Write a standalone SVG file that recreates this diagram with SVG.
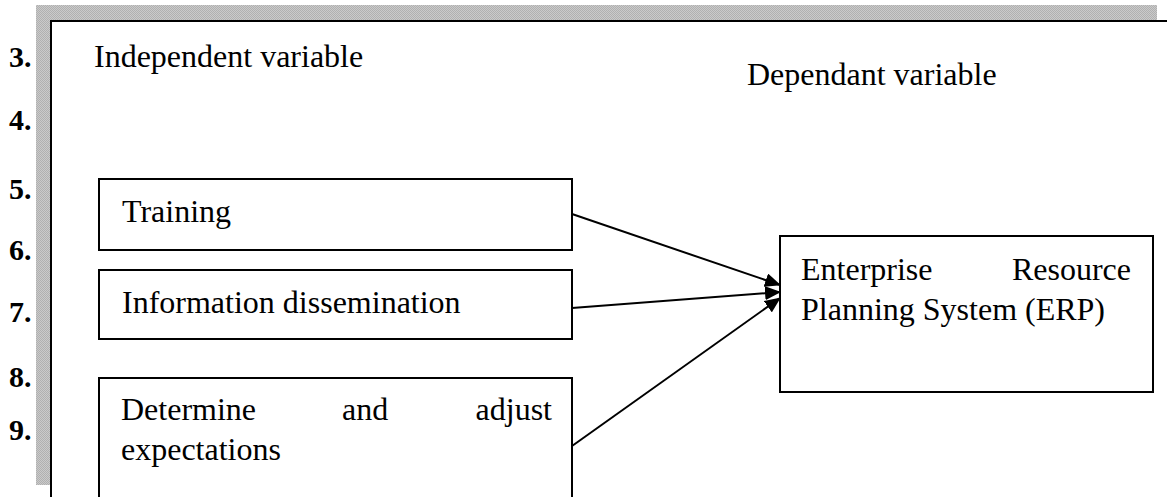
<svg xmlns="http://www.w3.org/2000/svg" width="1167" height="497" viewBox="0 0 1167 497">
<style>
.t{font-family:"Liberation Serif","Times New Roman",serif;font-size:32px;fill:#000}
.n{font-family:"Liberation Serif","Times New Roman",serif;font-size:30px;font-weight:bold;fill:#000}
.box{fill:#fff;stroke:#000;stroke-width:2}
.conn{stroke:#000;stroke-width:2;fill:none}
</style>
<defs>
<pattern id="chk" width="2" height="2" patternUnits="userSpaceOnUse">
<rect width="2" height="2" fill="#cacaca"/>
<rect width="1" height="1" fill="#b0b0b0"/>
<rect x="1" y="1" width="1" height="1" fill="#b0b0b0"/>
</pattern>
<marker id="ah" markerWidth="16" markerHeight="14" refX="15" refY="7" orient="auto" markerUnits="userSpaceOnUse">
<path d="M0,0 L16,7 L0,14 z" fill="#000"/>
</marker>
</defs>
<rect width="1167" height="497" fill="#fff"/>
<g id="frame">
<rect x="36" y="5" width="1121" height="16" fill="url(#chk)"/>
<rect x="36" y="5" width="15" height="480" fill="url(#chk)"/>
<rect x="51" y="21" width="1116" height="476" fill="#fff"/>
<path d="M51,497 V21 H1167" fill="none" stroke="#000" stroke-width="2"/>
</g>
<g id="numbers">
<text class="n" x="9" y="67">3.</text>
<text class="n" x="9" y="130">4.</text>
<text class="n" x="9" y="199">5.</text>
<text class="n" x="9" y="260">6.</text>
<text class="n" x="9" y="322">7.</text>
<text class="n" x="9" y="387">8.</text>
<text class="n" x="9" y="440">9.</text>
</g>
<g id="label-independent"><text class="t" x="94" y="67">Independent variable</text></g>
<g id="label-dependent"><text class="t" x="747" y="85">Dependant variable</text></g>
<g id="node-training">
<rect class="box" x="99" y="179" width="473" height="71"/>
<text class="t" x="122" y="222">Training</text>
</g>
<g id="node-info">
<rect class="box" x="99" y="270" width="473" height="69"/>
<text class="t" x="122" y="313">Information dissemination</text>
</g>
<g id="node-determine">
<rect class="box" x="99" y="378" width="473" height="130"/>
<text class="t" y="420"><tspan x="121">Determine</tspan><tspan x="342">and</tspan><tspan x="552" text-anchor="end">adjust</tspan></text>
<text class="t" x="121" y="460">expectations</text>
</g>
<g id="node-erp">
<rect class="box" x="780" y="236" width="373" height="156"/>
<text class="t" y="280"><tspan x="801">Enterprise</tspan><tspan x="1131" text-anchor="end">Resource</tspan></text>
<text class="t" x="801" y="320">Planning System (ERP)</text>
</g>
<g id="connectors">
<line class="conn" x1="572" y1="214" x2="780" y2="285" marker-end="url(#ah)"/>
<line class="conn" x1="572" y1="308" x2="780" y2="292" marker-end="url(#ah)"/>
<line class="conn" x1="572" y1="446" x2="780" y2="298" marker-end="url(#ah)"/>
</g>
</svg>
